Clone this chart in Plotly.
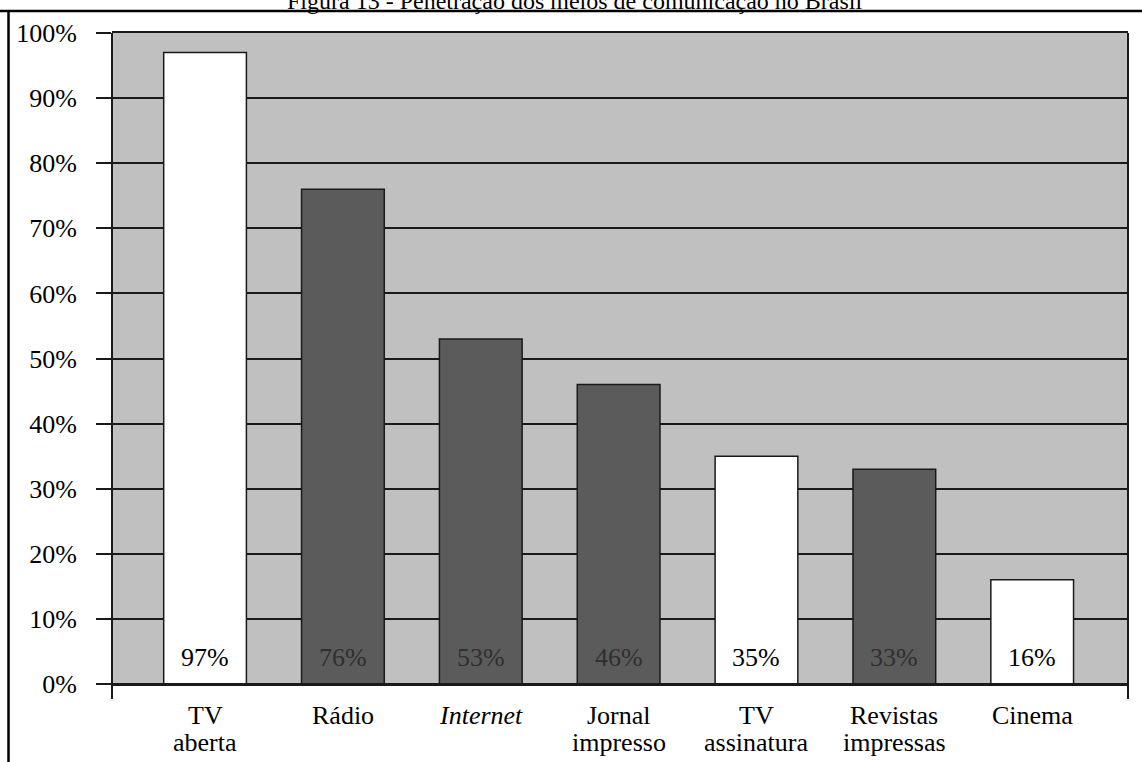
import plotly.graph_objects as go

# Penetration of media in Brazil (% of population)
categories = ["TV aberta", "Rádio", "Internet", "Jornal impresso",
              "TV assinatura", "Revistas impressas", "Cinema"]
label_lines = [["TV", "aberta"], ["Rádio"], ["<i>Internet</i>"], ["Jornal", "impresso"],
               ["TV", "assinatura"], ["Revistas", "impressas"], ["Cinema"]]
values = [97, 76, 53, 46, 35, 33, 16]
y_ticks = [0, 10, 20, 30, 40, 50, 60, 70, 80, 90, 100]
title_text = "Figura 13 - Penetração dos meios de comunicação no Brasil"

# styling
W, H = 1142, 762
ML, MR, MT, MB = 112, 14, 33, 78
PW, PH = W - ML - MR, H - MT - MB
FONT = "Liberation Serif, Times New Roman, serif"
WHITE_BARS = {"TV aberta", "TV assinatura", "Cinema"}
bar_colors = ["#ffffff" if c in WHITE_BARS else "#5b5b5b" for c in categories]
label_colors = ["#000000" if c in WHITE_BARS else "#2f2f2f" for c in categories]


def px_x(px):
    return (px - ML) / PW


def px_y(py):
    return (H - MB - py) / PH


fig = go.Figure(go.Bar(
    x=categories, y=values,
    marker=dict(color=bar_colors, line=dict(color="#1a1a1a", width=1.5)),
    width=0.6, hoverinfo="x+y",
))

annotations = [
    dict(x=c, y=0, xref="x", yref="y", text=f"{v}%", showarrow=False,
         yanchor="middle", yshift=27,
         font=dict(family=FONT, size=26, color=col))
    for c, v, col in zip(categories, values, label_colors)
]
# category labels, one annotation per line for tight line spacing
for c, lines in zip(categories, label_lines):
    for i, line in enumerate(lines):
        annotations.append(dict(
            x=c, y=0, xref="x", yref="paper", text=line, showarrow=False,
            yanchor="middle", yshift=-31 - 27 * i,
            font=dict(family=FONT, size=26, color="#000000"),
        ))
annotations.append(dict(
    x=px_x(575), y=px_y(16), xref="paper", yref="paper", text=title_text,
    showarrow=False, xanchor="center", yanchor="bottom",
    font=dict(family=FONT, size=24, color="#000000"),
))

shapes = [
    # page frame (top and left rules)
    dict(type="line", xref="paper", yref="paper", x0=px_x(0), x1=px_x(W),
         y0=px_y(11), y1=px_y(11), line=dict(color="#000000", width=2.5)),
    dict(type="line", xref="paper", yref="paper", x0=px_x(8.5), x1=px_x(8.5),
         y0=px_y(11), y1=px_y(H), line=dict(color="#000000", width=2.5)),
    # plot side borders running below the baseline
    dict(type="line", xref="paper", yref="paper", x0=0, x1=0,
         y0=px_y(699), y1=1, line=dict(color="#1a1a1a", width=2)),
    dict(type="line", xref="paper", yref="paper", x0=1, x1=1,
         y0=px_y(699), y1=1, line=dict(color="#1a1a1a", width=2)),
    # baseline extending left to the tick marks
    dict(type="line", xref="paper", yref="paper", x0=px_x(97), x1=1,
         y0=0, y1=0, line=dict(color="#1a1a1a", width=2)),
]

fig.update_layout(
    width=W, height=H,
    margin=dict(l=ML, r=MR, t=MT, b=MB),
    paper_bgcolor="#ffffff", plot_bgcolor="#c0c0c0",
    font=dict(family=FONT, color="#000000"),
    showlegend=False, bargap=0.4,
    annotations=annotations, shapes=shapes,
)
fig.update_xaxes(
    range=[-0.675, 6.695], showgrid=False, ticks="", showticklabels=False,
    showline=True, linecolor="#1a1a1a", linewidth=2, mirror=True,
)
fig.update_yaxes(
    range=[0, 100], tickvals=y_ticks, ticktext=[f"{t}%" for t in y_ticks],
    showgrid=True, gridcolor="#1a1a1a", gridwidth=1.5,
    ticks="outside", ticklen=15, tickwidth=1.5, tickcolor="#1a1a1a",
    showline=False, zeroline=False,
    tickfont=dict(family=FONT, size=26, color="#000000"),
    ticklabelstandoff=14,
)

fig.write_html("out.html")
